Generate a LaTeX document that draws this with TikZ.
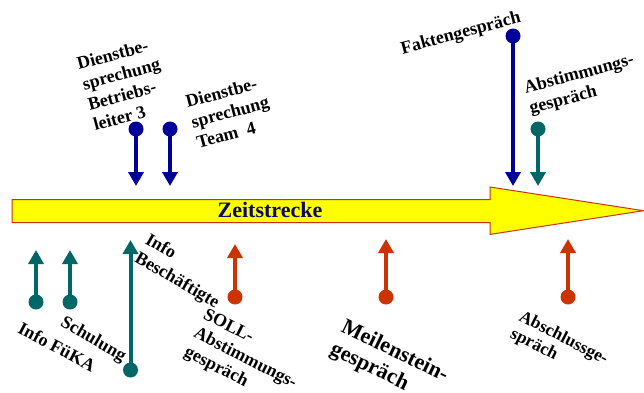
\documentclass[tikz,border=0pt]{standalone}
\usepackage{fontspec}
\setmainfont{Liberation Serif}
\usetikzlibrary{arrows.meta}
\definecolor{evblue}{HTML}{000099}
\definecolor{evteal}{HTML}{006666}
\definecolor{evred}{HTML}{CC3300}
\definecolor{tlyellow}{HTML}{FFFF00}
\definecolor{tlnavy}{HTML}{0A0A66}
\begin{document}
\begin{tikzpicture}[x=1pt,y=-1pt,
  dot/.style={circle,fill=#1,inner sep=0pt,minimum size=15pt},
  evarrow/.style={draw=#1,line width=4pt,-{Triangle[width=15pt,length=14pt]}},
  lbl/.style={font=\bfseries\fontsize{18}{21}\selectfont,align=left,inner sep=0pt},
  biglbl/.style={font=\bfseries\fontsize{22}{25}\selectfont,align=left,inner sep=0pt},
  smalllbl/.style={font=\bfseries\fontsize{17.5}{19}\selectfont,align=left,inner sep=0pt},
]
\useasboundingbox (0,0) rectangle (644,392);
% time line arrow
\draw[fill=tlyellow,draw=evred,line width=1pt]
  (12,199.5) -- (490,199.5) -- (490,187) -- (643.5,210.7) -- (490,234.4) -- (490,222.5) -- (12,222.5) -- cycle;
\node[font=\bfseries\fontsize{22}{25}\selectfont,text=tlnavy,inner sep=0pt] (zeit) at (270,210) {Zeitstrecke};

% top arrows
\node[dot=evblue] (d1) at (136,129) {};
\coordinate (t1) at (136,186);
\draw[evarrow=evblue] (d1.center) -- (t1);
\node[dot=evblue] (d2) at (170,129) {};
\coordinate (t2) at (170,186);
\draw[evarrow=evblue] (d2.center) -- (t2);
\node[dot=evblue] (d3) at (513,36) {};
\coordinate (t3) at (513,186);
\draw[evarrow=evblue] (d3.center) -- (t3);
\node[dot=evteal] (d4) at (538,129) {};
\coordinate (t4) at (538,186);
\draw[evarrow=evteal] (d4.center) -- (t4);

% bottom arrows
\node[dot=evteal] (d5) at (36,302) {};
\coordinate (t5) at (36,250);
\draw[evarrow=evteal] (d5.center) -- (t5);
\node[dot=evteal] (d6) at (70,302) {};
\coordinate (t6) at (70,250);
\draw[evarrow=evteal] (d6.center) -- (t6);
\node[dot=evteal] (d7) at (130.5,370) {};
\coordinate (t7) at (130.5,240);
\draw[evarrow=evteal] (d7.center) -- (t7);
\node[dot=evred] (d8) at (235,297) {};
\coordinate (t8) at (235,244);
\draw[evarrow=evred] (d8.center) -- (t8);
\node[dot=evred] (d9) at (386,297) {};
\coordinate (t9) at (386,239);
\draw[evarrow=evred] (d9.center) -- (t9);
\node[dot=evred] (d10) at (568,297) {};
\coordinate (t10) at (568,239);
\draw[evarrow=evred] (d10.center) -- (t10);

% labels
\node[lbl,rotate=15] (l1) at (124,84) {Dienstbe-\\sprechung\\Betriebs-\\leiter 3};
\node[lbl,rotate=15] (l2) at (230,112) {Dienstbe-\\sprechung\\Team~ 4};
\node[lbl,rotate=15] (l3) at (461,34) {Faktengespräch};
\node[lbl,rotate=15] (l4) at (582,85) {Abstimmungs-\\gespräch};
\node[lbl,rotate=-28] (l5) at (57,347) {Info FüKA};
\node[lbl,rotate=-30] (l6) at (93,340) {Schulung};
\node[lbl,rotate=-30] (l7) at (182,272) {Info\\Beschäftigte};
\node[lbl,rotate=-27] (l8) at (245,359) {SOLL-\\Abstimmungs-\\gespräch};
\node[biglbl,rotate=-26] (l9) at (389,363) {Meilenstein-\\gespräch};
\node[smalllbl,rotate=-27] (l10) at (559,347) {Abschlussge-\\spräch};
\end{tikzpicture}
\end{document}
